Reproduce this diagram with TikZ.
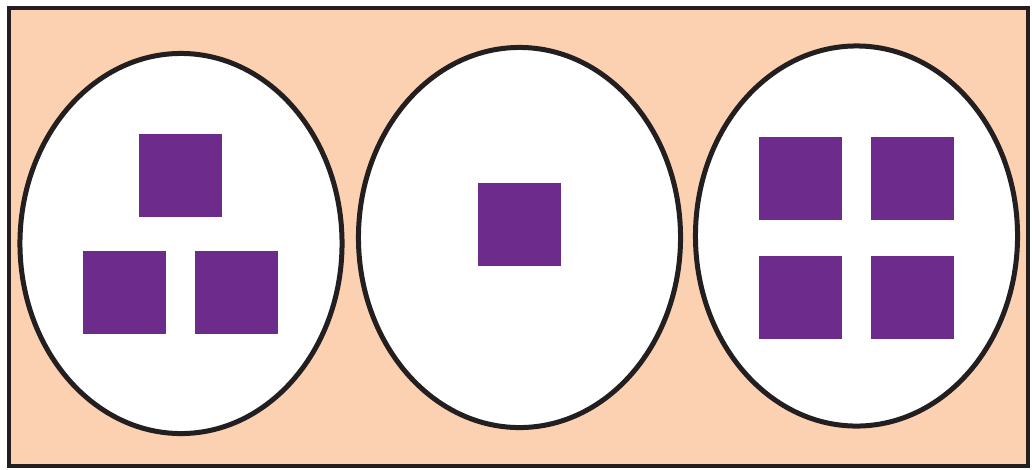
\documentclass[tikz,border=0pt]{standalone}
\usepackage{xcolor}
\usepackage{tikz}
\usetikzlibrary{shapes.geometric,positioning}
\definecolor{duraznoBg}{RGB}{252,209,178}
\definecolor{moradoBox}{RGB}{109,43,140}
\definecolor{negroLine}{RGB}{35,31,32}
\tikzset{
  grupo/.style={ellipse, draw=negroLine, fill=white, line width=0.125cm,
    minimum width=8.05cm, minimum height=9.5cm, inner sep=0pt},
  cubo/.style={rectangle, fill=moradoBox, minimum size=2.075cm, inner sep=0pt}
}
\begin{document}
\begin{tikzpicture}[x=0.025cm,y=-0.025cm]
  \useasboundingbox (0,0) rectangle (1032,469);
  % Marco exterior
  \filldraw[draw=negroLine, fill=duraznoBg, line width=0.11cm]
    (9,8) rectangle (1028,466);
  % Conjuntos
  \node[grupo] (grupoA) at (181,243.5) {};
  \node[grupo] (grupoB) at (519.5,237.5) {};
  \node[grupo] (grupoC) at (856.5,236) {};
  % Conjunto de tres
  \node[cubo] (a1) at (180.5,175.5) {};
  \node[cubo] (a2) at (124.5,292.5) {};
  \node[cubo] (a3) at (236.5,292.5) {};
  % Conjunto de uno
  \node[cubo] (b1) at (519.5,224.5) {};
  % Conjunto de cuatro
  \node[cubo] (c1) at (800.5,178.5) {};
  \node[cubo] (c2) at (912.5,178.5) {};
  \node[cubo] (c3) at (800.5,297.5) {};
  \node[cubo] (c4) at (912.5,297.5) {};
\end{tikzpicture}
\end{document}
